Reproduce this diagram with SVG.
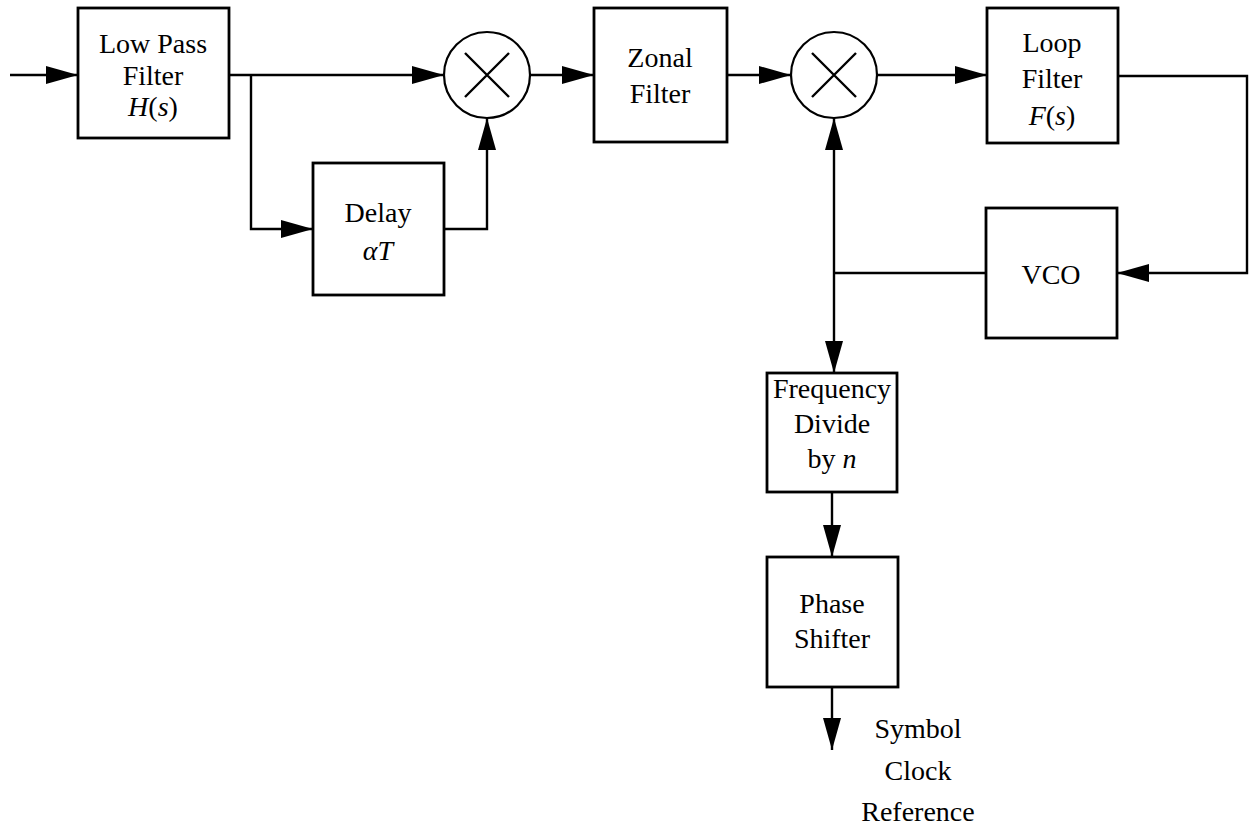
<svg xmlns="http://www.w3.org/2000/svg" width="1253" height="826" viewBox="0 0 1253 826">
<style>
.box{fill:#fff;stroke:#000;stroke-width:2.8}
.mix{fill:#fff;stroke:#000;stroke-width:2.2}
.x{stroke:#000;stroke-width:2.4}
.c{fill:none;stroke:#000;stroke-width:2.4}
text{font-family:"Liberation Serif","Times New Roman",serif;font-size:28px;fill:#000;text-anchor:middle}
.i{font-style:italic}
</style>
<defs>
<marker id="ah" markerUnits="userSpaceOnUse" markerWidth="34" markerHeight="20" refX="32" refY="9" orient="auto">
<path d="M0,0 L32,9 L0,18 Z" fill="#000"/>
</marker>
</defs>
<rect width="1253" height="826" fill="#fff"/>
<g id="connectors">
<path class="c" d="M10,75 H78" marker-end="url(#ah)"/>
<path class="c" d="M229,75 H444" marker-end="url(#ah)"/>
<path class="c" d="M251,75 V229 H313" marker-end="url(#ah)"/>
<path class="c" d="M444,229 H487 V118" marker-end="url(#ah)"/>
<path class="c" d="M530,75 H594" marker-end="url(#ah)"/>
<path class="c" d="M727,75 H791" marker-end="url(#ah)"/>
<path class="c" d="M877,75 H987" marker-end="url(#ah)"/>
<path class="c" d="M1118,76 H1247 V273 H1117" marker-end="url(#ah)"/>
<path class="c" d="M986,273 H834"/>
<path class="c" d="M834,273 V118" marker-end="url(#ah)"/>
<path class="c" d="M834,273 V373" marker-end="url(#ah)"/>
<path class="c" d="M832,492 V557" marker-end="url(#ah)"/>
<path class="c" d="M832,687 V750" marker-end="url(#ah)"/>
</g>
<g id="lpf">
<rect class="box" x="78" y="8" width="151" height="130"/>
<text x="153" y="53">Low Pass</text>
<text x="153" y="85">Filter</text>
<text x="153" y="116"><tspan class="i">H</tspan>(<tspan class="i">s</tspan>)</text>
</g>
<g id="mixer1">
<circle class="mix" cx="487" cy="75" r="43"/>
<path class="x" d="M465,53 L509,97 M509,53 L465,97"/>
</g>
<g id="delay">
<rect class="box" x="313" y="163" width="131" height="132"/>
<text x="378" y="222">Delay</text>
<text x="378" y="260" class="i">αT</text>
</g>
<g id="zonal">
<rect class="box" x="594" y="8" width="133" height="134"/>
<text x="660" y="67">Zonal</text>
<text x="660" y="103">Filter</text>
</g>
<g id="mixer2">
<circle class="mix" cx="834" cy="75" r="43"/>
<path class="x" d="M812,53 L856,97 M856,53 L812,97"/>
</g>
<g id="loopfilter">
<rect class="box" x="987" y="8" width="131" height="135"/>
<text x="1052" y="52">Loop</text>
<text x="1052" y="88">Filter</text>
<text x="1052" y="125"><tspan class="i">F</tspan>(<tspan class="i">s</tspan>)</text>
</g>
<g id="vco">
<rect class="box" x="986" y="208" width="131" height="130"/>
<text x="1051" y="284">VCO</text>
</g>
<g id="freqdiv">
<rect class="box" x="767" y="373" width="130" height="119"/>
<text x="832" y="398">Frequency</text>
<text x="832" y="433">Divide</text>
<text x="832" y="468">by <tspan class="i">n</tspan></text>
</g>
<g id="phaseshifter">
<rect class="box" x="767" y="557" width="131" height="130"/>
<text x="832" y="613">Phase</text>
<text x="832" y="648">Shifter</text>
</g>
<g id="output-label">
<text x="918" y="738">Symbol</text>
<text x="918" y="780">Clock</text>
<text x="918" y="821">Reference</text>
</g>
</svg>
